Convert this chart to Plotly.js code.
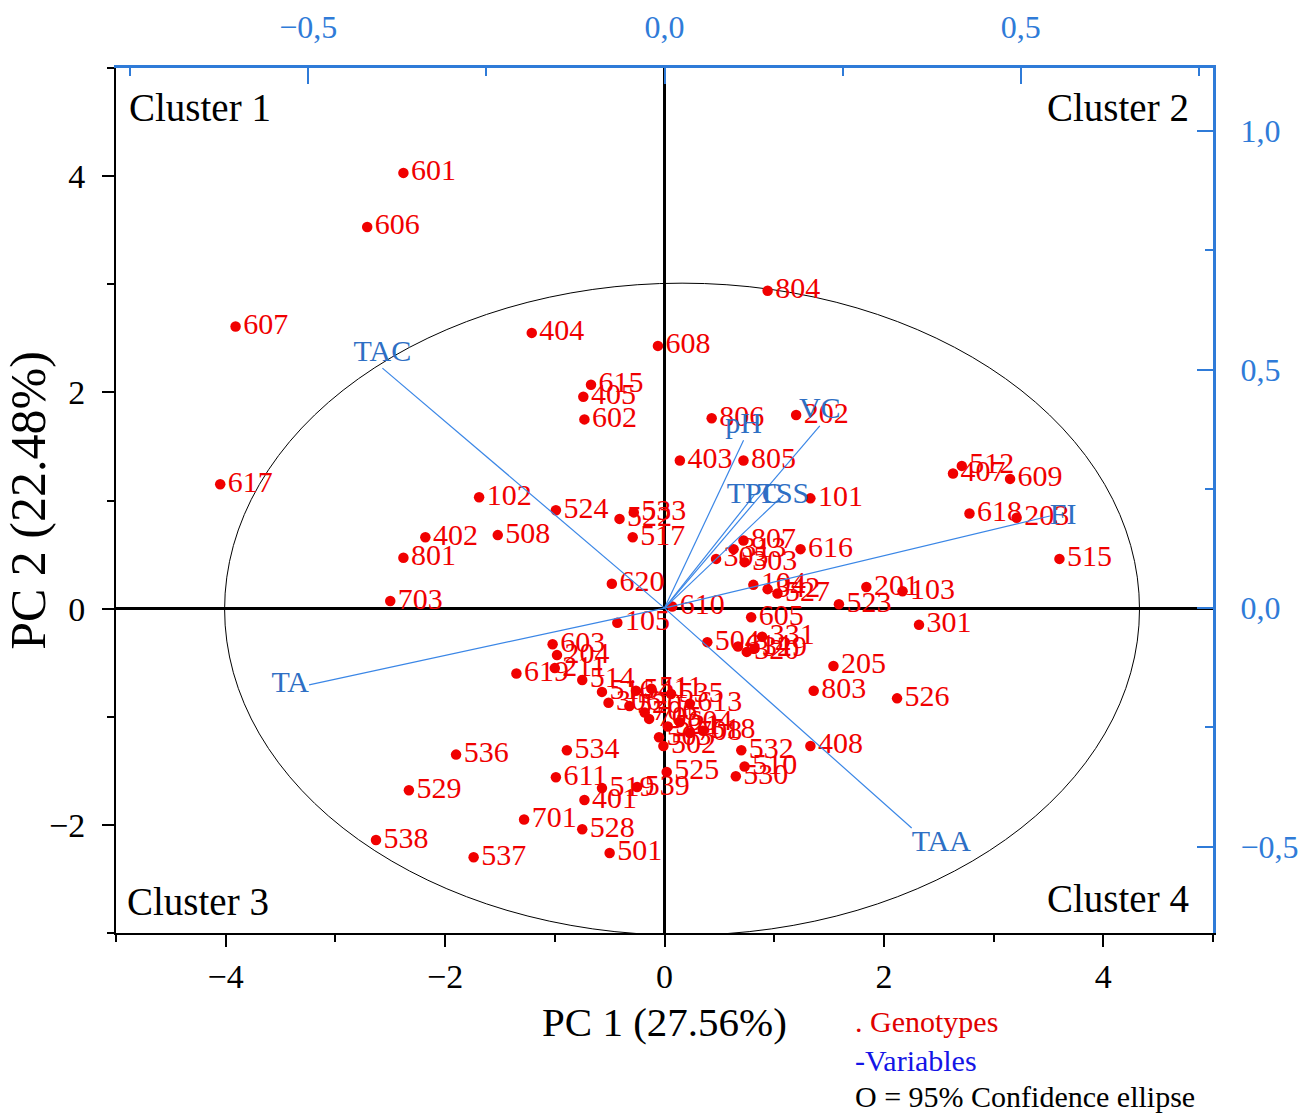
<!DOCTYPE html>
<html><head><meta charset="utf-8">
<script src="https://cdn.plot.ly/plotly-3.0.1.min.js"></script>
<style>body{margin:0;background:#fff}</style>
</head><body><div id="chart" style="width:1314px;height:1113px"></div>
<script>
// Genotype scores (PC1, PC2)
const genotypes = ['601','606','607','404','608','804','615','405','602','617','806','202','403','805','101','102','402','508','801','703','524','533','522','517','620','610','105','512','407','609','618','203','515','616','807','313','305','303','104','342','527','201','103','523','301','605','504','331','614','320','329','205','803','526','408','603','204','211','619','514','516','306','541','511','535','520','706','613','705','604','521','708','518','503','502','525','532','510','530','536','529','538','537','534','611','519','539','401','528','501','701'];
const pc1 = [-2.38,-2.71,-3.91,-1.21,-0.06,0.94,-0.67,-0.74,-0.73,-4.05,0.43,1.20,0.14,0.72,1.33,-1.69,-2.18,-1.52,-2.38,-2.50,-0.99,-0.28,-0.41,-0.29,-0.48,0.07,-0.43,2.71,2.63,3.15,2.78,3.21,3.60,1.24,0.72,0.63,0.47,0.73,0.81,0.94,1.03,1.84,2.17,1.59,2.32,0.79,0.39,0.89,0.67,0.75,0.82,1.54,1.36,2.12,1.33,-1.02,-0.98,-1.00,-1.35,-0.75,-0.57,-0.51,-0.26,-0.12,0.06,-0.32,-0.18,0.23,-0.14,0.14,0.03,0.23,0.35,-0.05,-0.01,0.02,0.70,0.73,0.65,-1.90,-2.33,-2.63,-1.74,-0.89,-0.99,-0.57,-0.25,-0.73,-0.75,-0.50,-1.28];
const pc2 = [4.03,3.53,2.61,2.55,2.43,2.94,2.07,1.96,1.75,1.15,1.76,1.79,1.37,1.37,1.02,1.03,0.66,0.68,0.47,0.07,0.91,0.89,0.83,0.66,0.23,0.02,-0.13,1.32,1.25,1.20,0.88,0.84,0.46,0.55,0.63,0.55,0.46,0.43,0.22,0.18,0.14,0.20,0.16,0.04,-0.15,-0.08,-0.31,-0.26,-0.35,-0.40,-0.37,-0.53,-0.76,-0.83,-1.27,-0.33,-0.43,-0.55,-0.60,-0.66,-0.77,-0.87,-0.76,-0.74,-0.79,-0.90,-0.96,-0.88,-1.02,-1.05,-1.09,-1.15,-1.13,-1.19,-1.27,-1.51,-1.31,-1.46,-1.55,-1.35,-1.68,-2.14,-2.30,-1.31,-1.56,-1.66,-1.65,-1.77,-2.04,-2.26,-1.95];

// Variable loadings (top / right axes)
const variables = ['TAC','TA','TAA','FI','VC','pH','TPC','TSS'];
const load1 = [-0.396,-0.499,0.347,0.541,0.218,0.111,0.126,0.167];
const load2 = [0.503,-0.161,-0.461,0.193,0.382,0.352,0.237,0.237];

// 95% confidence ellipse bounds (PC1, PC2)
const ellipseX = [-4.01, 4.33];
const ellipseY = [-3.02, 3.01];

const clusterNames = ['Cluster 1','Cluster 2','Cluster 3','Cluster 4'];
const legendLines = ['. Genotypes','-Variables','O = 95% Confidence ellipse'];
const topTickVals = [-0.5, 0, 0.5];
const topTickText = ['\u22120,5','0,0','0,5'];
const rightTickVals = [-0.5, 0, 0.5, 1.0];
const rightTickText = ['\u22120,5','0,0','0,5','1,0'];

const FONT = 'Liberation Serif, Times New Roman, serif';
const BLUE_AX = '#2f7bd8';
const BLUE_TXT = '#2e6fc4';
const RED = '#f00000';

const varLabelPos = ['top center','middle left','bottom right','middle right','top center','top center','middle center','middle center'];

const vx = [], vy = [];
load1.forEach((v, i) => { vx.push(0, v, null); vy.push(0, load2[i], null); });

const traces = [
  {type:'scatter', mode:'markers+text', x:pc1, y:pc2, text:genotypes,
   textposition:'middle right', cliponaxis:false,
   marker:{color:RED, size:10.5}, textfont:{family:FONT, size:30, color:RED},
   xaxis:'x', yaxis:'y', hoverinfo:'text', showlegend:false},
  {type:'scatter', mode:'lines', x:vx, y:vy, line:{color:'#3a86e6', width:1.2},
   xaxis:'x2', yaxis:'y2', showlegend:false, hoverinfo:'skip'},
  {type:'scatter', mode:'text', x:load1, y:load2, text:variables,
   textposition:varLabelPos, cliponaxis:false,
   textfont:{family:FONT, size:30, color:BLUE_TXT},
   xaxis:'x2', yaxis:'y2', showlegend:false}
];

const clusterPos = [[0.010,0.954,'left'],[0.980,0.954,'right'],[0.008,0.036,'left'],[0.980,0.040,'right']];
const annotations = clusterNames.map((c,i)=>({
  text:c, xref:'paper', yref:'paper', x:clusterPos[i][0], y:clusterPos[i][1],
  xanchor:clusterPos[i][2], yanchor:'middle', showarrow:false,
  font:{family:FONT, size:39, color:'#000'}
}));
const legendColors = ['#e00000','#1414e6','#000000'];
const legendY = [-0.102,-0.147,-0.189];
legendLines.forEach((t,i)=>annotations.push({
  text:t, xref:'paper', yref:'paper', x:0.672, y:legendY[i], xanchor:'left', yanchor:'middle',
  showarrow:false, font:{family:FONT, size:30, color:legendColors[i]}
}));

const layout = {
  width:1314, height:1113,
  margin:{l:116, r:101, t:68, b:180},
  paper_bgcolor:'#fff', plot_bgcolor:'#fff',
  font:{family:FONT},
  showlegend:false,
  xaxis:{range:[-5,5], tick0:0, dtick:2, ticks:'outside', ticklen:12, tickwidth:2, tickcolor:'#000',
    minor:{dtick:1, tick0:0, ticks:'outside', ticklen:7, tickwidth:2, tickcolor:'#000'},
    showline:true, linecolor:'#000', linewidth:2, showgrid:false,
    zeroline:true, zerolinecolor:'#000', zerolinewidth:3,
    tickfont:{family:FONT, size:34, color:'#000'},
    title:{text:'PC 1 (27.56%)', font:{family:FONT, size:41, color:'#000'}, standoff:14},
    automargin:false},
  yaxis:{range:[-3,5], tick0:0, dtick:2, ticks:'outside', ticklen:12, tickwidth:2, tickcolor:'#000',
    minor:{dtick:1, tick0:0, ticks:'outside', ticklen:7, tickwidth:2, tickcolor:'#000'},
    showline:true, linecolor:'#000', linewidth:2, showgrid:false,
    zeroline:true, zerolinecolor:'#000', zerolinewidth:3,
    tickfont:{family:FONT, size:34, color:'#000'}, ticklabelstandoff:10,
    title:{text:'PC 2 (22.48%)', font:{family:FONT, size:50, color:'#000'}, standoff:4},
    automargin:false},
  xaxis2:{overlaying:'x', side:'top', anchor:'y', range:[-0.77,0.77],
    tickvals:topTickVals, ticktext:topTickText, ticks:'inside', ticklen:16, tickwidth:2, tickcolor:BLUE_AX,
    minor:{tickvals:[-0.75,-0.25,0.25,0.75], ticks:'inside', ticklen:8, tickwidth:2, tickcolor:BLUE_AX},
    showline:true, linecolor:BLUE_AX, linewidth:3, showgrid:false, zeroline:false,
    tickfont:{family:FONT, size:32, color:BLUE_AX}, ticklabelstandoff:14, automargin:false},
  yaxis2:{overlaying:'y', side:'right', anchor:'x', range:[-0.681,1.132],
    tickvals:rightTickVals, ticktext:rightTickText, ticks:'inside', ticklen:16, tickwidth:2, tickcolor:BLUE_AX,
    minor:{tickvals:[-0.25,0.25,0.75], ticks:'inside', ticklen:8, tickwidth:2, tickcolor:BLUE_AX},
    showline:true, linecolor:BLUE_AX, linewidth:3, showgrid:false, zeroline:false,
    tickfont:{family:FONT, size:32, color:BLUE_AX}, ticklabelstandoff:18, automargin:false},
  shapes:[{type:'circle', xref:'x', yref:'y', x0:ellipseX[0], x1:ellipseX[1], y0:ellipseY[0], y1:ellipseY[1],
    line:{color:'#000', width:1}, layer:'below'}],
  annotations:annotations
};

Plotly.newPlot('chart', traces, layout, {displayModeBar:false, staticPlot:true});
</script>
</body></html>
